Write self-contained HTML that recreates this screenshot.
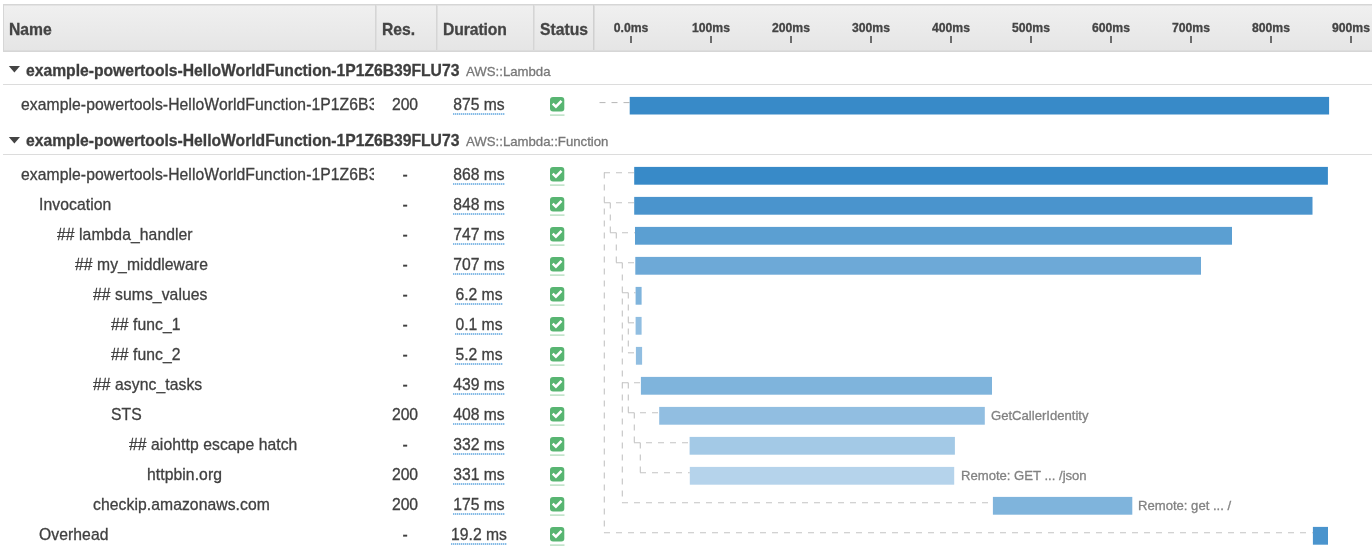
<!DOCTYPE html>
<html><head><meta charset="utf-8"><style>
html,body{margin:0;padding:0;}
body{width:1372px;height:549px;position:relative;overflow:hidden;background:#fff;font-family:"Liberation Sans",sans-serif;}
.t{position:absolute;white-space:nowrap;will-change:transform;-webkit-text-stroke:0.3px currentColor;}
.abs{position:absolute;overflow:visible;}
.hdr{position:absolute;left:3px;top:4px;width:1369px;height:46px;border:1px solid #d6d6d6;border-right:none;background:linear-gradient(#f0f0f0,#e5e5e5);box-shadow:inset 0 1px 0 #e3e3e3, inset 0 -1px 0 #dcdcdc;}
.csep{position:absolute;top:5px;height:45px;width:2px;background:linear-gradient(90deg,#d5d5d5 50%,#dfdfdf 50%);}
.csep2{position:absolute;top:5px;height:45px;width:2px;background:linear-gradient(90deg,#d0d0d0 50%,#dcdcdc 50%);}
.tick{position:absolute;top:35.5px;height:7px;width:2px;background:#6b6b6b;}
.gdiv{position:absolute;left:3px;width:1369px;height:1px;background:#dcdcdc;}
.nm{position:absolute;height:30px;overflow:hidden;}
</style></head><body>
<div class="hdr"></div>
<div class="csep" style="left:374.5px"></div>
<div class="csep" style="left:435.5px"></div>
<div class="csep" style="left:532.5px"></div>
<div class="csep2" style="left:593.3px"></div>
<div class="t" style="left:8.80px;top:19.75px;font-size:15.7px;line-height:20.41px;font-weight:bold;color:#444;">Name</div>
<div class="t" style="left:382.40px;top:19.75px;font-size:15.7px;line-height:20.41px;font-weight:bold;color:#444;">Res.</div>
<div class="t" style="left:442.60px;top:19.75px;font-size:15.7px;line-height:20.41px;font-weight:bold;color:#444;letter-spacing:-0.08px;">Duration</div>
<div class="t" style="left:540.20px;top:19.75px;font-size:15.7px;line-height:20.41px;font-weight:bold;color:#444;">Status</div>
<div class="t" style="left:431.20px;width:400px;text-align:center;top:20.84px;font-size:12.2px;line-height:15.86px;font-weight:bold;color:#444;">0.0ms</div>
<div class="tick" style="left:630px"></div>
<div class="t" style="left:511.23px;width:400px;text-align:center;top:20.84px;font-size:12.2px;line-height:15.86px;font-weight:bold;color:#444;">100ms</div>
<div class="tick" style="left:710px"></div>
<div class="t" style="left:591.26px;width:400px;text-align:center;top:20.84px;font-size:12.2px;line-height:15.86px;font-weight:bold;color:#444;">200ms</div>
<div class="tick" style="left:790px"></div>
<div class="t" style="left:671.29px;width:400px;text-align:center;top:20.84px;font-size:12.2px;line-height:15.86px;font-weight:bold;color:#444;">300ms</div>
<div class="tick" style="left:870px"></div>
<div class="t" style="left:751.32px;width:400px;text-align:center;top:20.84px;font-size:12.2px;line-height:15.86px;font-weight:bold;color:#444;">400ms</div>
<div class="tick" style="left:950px"></div>
<div class="t" style="left:831.35px;width:400px;text-align:center;top:20.84px;font-size:12.2px;line-height:15.86px;font-weight:bold;color:#444;">500ms</div>
<div class="tick" style="left:1030px"></div>
<div class="t" style="left:911.38px;width:400px;text-align:center;top:20.84px;font-size:12.2px;line-height:15.86px;font-weight:bold;color:#444;">600ms</div>
<div class="tick" style="left:1110px"></div>
<div class="t" style="left:991.41px;width:400px;text-align:center;top:20.84px;font-size:12.2px;line-height:15.86px;font-weight:bold;color:#444;">700ms</div>
<div class="tick" style="left:1190px"></div>
<div class="t" style="left:1071.44px;width:400px;text-align:center;top:20.84px;font-size:12.2px;line-height:15.86px;font-weight:bold;color:#444;">800ms</div>
<div class="tick" style="left:1270px"></div>
<div class="t" style="left:1151.47px;width:400px;text-align:center;top:20.84px;font-size:12.2px;line-height:15.86px;font-weight:bold;color:#444;">900ms</div>
<div class="tick" style="left:1350px"></div>
<svg class="abs" style="left:8px;top:65.4px" width="14" height="10"><path d="M0.8 1 L12 1 L6.4 7.6 Z" fill="#444"/></svg>
<div class="t" style="left:25.80px;top:60.77px;font-size:15.68px;line-height:20.38px;font-weight:bold;color:#3e3e3e;">example-powertools-HelloWorldFunction-1P1Z6B39FLU73</div>
<div class="t" style="left:465.80px;top:63.24px;font-size:13.2px;line-height:17.16px;color:#777;">AWS::Lambda</div>
<div class="gdiv" style="top:83.6px"></div>
<div class="nm" style="left:21.0px;top:90px;width:353.3px;letter-spacing:0.08px"><div class="t"  style="left:0px;top:4.95px;font-size:15.7px;line-height:20.41px;color:#404040;">example-powertools-HelloWorldFunction-1P1Z6B39FLU73</div></div>
<div class="t" style="left:205.20px;width:400px;text-align:center;top:95.15px;font-size:15.7px;line-height:20.41px;color:#404040;"><span style="">200</span></div>
<div class="t" style="left:279.00px;width:400px;text-align:center;top:95.15px;font-size:15.7px;line-height:20.41px;color:#404040;"><span style="background:repeating-linear-gradient(90deg,#86bbe6 0 1px,#d4e7f6 1px 2px) left bottom/100% 2px no-repeat;padding-bottom:3px;display:inline-block;line-height:15px">875 ms</span></div>
<svg class="abs" style="left:550px;top:96.5px" width="15" height="20"><rect x="0" y="0" width="14.3" height="14.5" rx="3" fill="#58b572"/><path d="M2.7 6.6 L5.9 9.6 L11.5 3.9" stroke="#fff" stroke-width="2.6" fill="none" stroke-linecap="butt"/><line x1="0" y1="18.1" x2="14.5" y2="18.1" stroke="#b0dbbb" stroke-width="1.3"/></svg>
<svg class="abs" style="left:8px;top:135.8px" width="14" height="10"><path d="M0.8 1 L12 1 L6.4 7.6 Z" fill="#444"/></svg>
<div class="t" style="left:25.80px;top:130.87px;font-size:15.68px;line-height:20.38px;font-weight:bold;color:#3e3e3e;">example-powertools-HelloWorldFunction-1P1Z6B39FLU73</div>
<div class="t" style="left:465.80px;top:133.04px;font-size:13.2px;line-height:17.16px;color:#777;">AWS::Lambda::Function</div>
<div class="gdiv" style="top:154.0px"></div>
<div class="nm" style="left:21.0px;top:160px;width:353.3px;letter-spacing:0.08px"><div class="t"  style="left:0px;top:4.95px;font-size:15.7px;line-height:20.41px;color:#404040;">example-powertools-HelloWorldFunction-1P1Z6B39FLU73</div></div>
<div class="t" style="left:205.20px;width:400px;text-align:center;top:165.15px;font-size:15.7px;line-height:20.41px;color:#404040;"><span style="">-</span></div>
<div class="t" style="left:279.00px;width:400px;text-align:center;top:165.15px;font-size:15.7px;line-height:20.41px;color:#404040;"><span style="background:repeating-linear-gradient(90deg,#86bbe6 0 1px,#d4e7f6 1px 2px) left bottom/100% 2px no-repeat;padding-bottom:3px;display:inline-block;line-height:15px">868 ms</span></div>
<svg class="abs" style="left:550px;top:166.5px" width="15" height="20"><rect x="0" y="0" width="14.3" height="14.5" rx="3" fill="#58b572"/><path d="M2.7 6.6 L5.9 9.6 L11.5 3.9" stroke="#fff" stroke-width="2.6" fill="none" stroke-linecap="butt"/><line x1="0" y1="18.1" x2="14.5" y2="18.1" stroke="#b0dbbb" stroke-width="1.3"/></svg>
<div class="nm" style="left:39.0px;top:190px;width:335.3px;letter-spacing:0.08px"><div class="t"  style="left:0px;top:4.95px;font-size:15.7px;line-height:20.41px;color:#404040;">Invocation</div></div>
<div class="t" style="left:205.20px;width:400px;text-align:center;top:195.15px;font-size:15.7px;line-height:20.41px;color:#404040;"><span style="">-</span></div>
<div class="t" style="left:279.00px;width:400px;text-align:center;top:195.15px;font-size:15.7px;line-height:20.41px;color:#404040;"><span style="background:repeating-linear-gradient(90deg,#86bbe6 0 1px,#d4e7f6 1px 2px) left bottom/100% 2px no-repeat;padding-bottom:3px;display:inline-block;line-height:15px">848 ms</span></div>
<svg class="abs" style="left:550px;top:196.5px" width="15" height="20"><rect x="0" y="0" width="14.3" height="14.5" rx="3" fill="#58b572"/><path d="M2.7 6.6 L5.9 9.6 L11.5 3.9" stroke="#fff" stroke-width="2.6" fill="none" stroke-linecap="butt"/><line x1="0" y1="18.1" x2="14.5" y2="18.1" stroke="#b0dbbb" stroke-width="1.3"/></svg>
<div class="nm" style="left:57.0px;top:220px;width:317.3px;letter-spacing:0.08px"><div class="t"  style="left:0px;top:4.95px;font-size:15.7px;line-height:20.41px;color:#404040;">## lambda_handler</div></div>
<div class="t" style="left:205.20px;width:400px;text-align:center;top:225.15px;font-size:15.7px;line-height:20.41px;color:#404040;"><span style="">-</span></div>
<div class="t" style="left:279.00px;width:400px;text-align:center;top:225.15px;font-size:15.7px;line-height:20.41px;color:#404040;"><span style="background:repeating-linear-gradient(90deg,#86bbe6 0 1px,#d4e7f6 1px 2px) left bottom/100% 2px no-repeat;padding-bottom:3px;display:inline-block;line-height:15px">747 ms</span></div>
<svg class="abs" style="left:550px;top:226.5px" width="15" height="20"><rect x="0" y="0" width="14.3" height="14.5" rx="3" fill="#58b572"/><path d="M2.7 6.6 L5.9 9.6 L11.5 3.9" stroke="#fff" stroke-width="2.6" fill="none" stroke-linecap="butt"/><line x1="0" y1="18.1" x2="14.5" y2="18.1" stroke="#b0dbbb" stroke-width="1.3"/></svg>
<div class="nm" style="left:75.0px;top:250px;width:299.3px;letter-spacing:0.08px"><div class="t"  style="left:0px;top:4.95px;font-size:15.7px;line-height:20.41px;color:#404040;">## my_middleware</div></div>
<div class="t" style="left:205.20px;width:400px;text-align:center;top:255.15px;font-size:15.7px;line-height:20.41px;color:#404040;"><span style="">-</span></div>
<div class="t" style="left:279.00px;width:400px;text-align:center;top:255.15px;font-size:15.7px;line-height:20.41px;color:#404040;"><span style="background:repeating-linear-gradient(90deg,#86bbe6 0 1px,#d4e7f6 1px 2px) left bottom/100% 2px no-repeat;padding-bottom:3px;display:inline-block;line-height:15px">707 ms</span></div>
<svg class="abs" style="left:550px;top:256.5px" width="15" height="20"><rect x="0" y="0" width="14.3" height="14.5" rx="3" fill="#58b572"/><path d="M2.7 6.6 L5.9 9.6 L11.5 3.9" stroke="#fff" stroke-width="2.6" fill="none" stroke-linecap="butt"/><line x1="0" y1="18.1" x2="14.5" y2="18.1" stroke="#b0dbbb" stroke-width="1.3"/></svg>
<div class="nm" style="left:93.0px;top:280px;width:281.3px;letter-spacing:0.08px"><div class="t"  style="left:0px;top:4.95px;font-size:15.7px;line-height:20.41px;color:#404040;">## sums_values</div></div>
<div class="t" style="left:205.20px;width:400px;text-align:center;top:285.15px;font-size:15.7px;line-height:20.41px;color:#404040;"><span style="">-</span></div>
<div class="t" style="left:279.00px;width:400px;text-align:center;top:285.15px;font-size:15.7px;line-height:20.41px;color:#404040;"><span style="background:repeating-linear-gradient(90deg,#86bbe6 0 1px,#d4e7f6 1px 2px) left bottom/100% 2px no-repeat;padding-bottom:3px;display:inline-block;line-height:15px">6.2 ms</span></div>
<svg class="abs" style="left:550px;top:286.5px" width="15" height="20"><rect x="0" y="0" width="14.3" height="14.5" rx="3" fill="#58b572"/><path d="M2.7 6.6 L5.9 9.6 L11.5 3.9" stroke="#fff" stroke-width="2.6" fill="none" stroke-linecap="butt"/><line x1="0" y1="18.1" x2="14.5" y2="18.1" stroke="#b0dbbb" stroke-width="1.3"/></svg>
<div class="nm" style="left:111.0px;top:310px;width:263.3px;letter-spacing:0.08px"><div class="t"  style="left:0px;top:4.95px;font-size:15.7px;line-height:20.41px;color:#404040;">## func_1</div></div>
<div class="t" style="left:205.20px;width:400px;text-align:center;top:315.15px;font-size:15.7px;line-height:20.41px;color:#404040;"><span style="">-</span></div>
<div class="t" style="left:279.00px;width:400px;text-align:center;top:315.15px;font-size:15.7px;line-height:20.41px;color:#404040;"><span style="background:repeating-linear-gradient(90deg,#86bbe6 0 1px,#d4e7f6 1px 2px) left bottom/100% 2px no-repeat;padding-bottom:3px;display:inline-block;line-height:15px">0.1 ms</span></div>
<svg class="abs" style="left:550px;top:316.5px" width="15" height="20"><rect x="0" y="0" width="14.3" height="14.5" rx="3" fill="#58b572"/><path d="M2.7 6.6 L5.9 9.6 L11.5 3.9" stroke="#fff" stroke-width="2.6" fill="none" stroke-linecap="butt"/><line x1="0" y1="18.1" x2="14.5" y2="18.1" stroke="#b0dbbb" stroke-width="1.3"/></svg>
<div class="nm" style="left:111.0px;top:340px;width:263.3px;letter-spacing:0.08px"><div class="t"  style="left:0px;top:4.95px;font-size:15.7px;line-height:20.41px;color:#404040;">## func_2</div></div>
<div class="t" style="left:205.20px;width:400px;text-align:center;top:345.15px;font-size:15.7px;line-height:20.41px;color:#404040;"><span style="">-</span></div>
<div class="t" style="left:279.00px;width:400px;text-align:center;top:345.15px;font-size:15.7px;line-height:20.41px;color:#404040;"><span style="background:repeating-linear-gradient(90deg,#86bbe6 0 1px,#d4e7f6 1px 2px) left bottom/100% 2px no-repeat;padding-bottom:3px;display:inline-block;line-height:15px">5.2 ms</span></div>
<svg class="abs" style="left:550px;top:346.5px" width="15" height="20"><rect x="0" y="0" width="14.3" height="14.5" rx="3" fill="#58b572"/><path d="M2.7 6.6 L5.9 9.6 L11.5 3.9" stroke="#fff" stroke-width="2.6" fill="none" stroke-linecap="butt"/><line x1="0" y1="18.1" x2="14.5" y2="18.1" stroke="#b0dbbb" stroke-width="1.3"/></svg>
<div class="nm" style="left:93.0px;top:370px;width:281.3px;letter-spacing:0.08px"><div class="t"  style="left:0px;top:4.95px;font-size:15.7px;line-height:20.41px;color:#404040;">## async_tasks</div></div>
<div class="t" style="left:205.20px;width:400px;text-align:center;top:375.15px;font-size:15.7px;line-height:20.41px;color:#404040;"><span style="">-</span></div>
<div class="t" style="left:279.00px;width:400px;text-align:center;top:375.15px;font-size:15.7px;line-height:20.41px;color:#404040;"><span style="background:repeating-linear-gradient(90deg,#86bbe6 0 1px,#d4e7f6 1px 2px) left bottom/100% 2px no-repeat;padding-bottom:3px;display:inline-block;line-height:15px">439 ms</span></div>
<svg class="abs" style="left:550px;top:376.5px" width="15" height="20"><rect x="0" y="0" width="14.3" height="14.5" rx="3" fill="#58b572"/><path d="M2.7 6.6 L5.9 9.6 L11.5 3.9" stroke="#fff" stroke-width="2.6" fill="none" stroke-linecap="butt"/><line x1="0" y1="18.1" x2="14.5" y2="18.1" stroke="#b0dbbb" stroke-width="1.3"/></svg>
<div class="nm" style="left:111.0px;top:400px;width:263.3px;letter-spacing:0.08px"><div class="t"  style="left:0px;top:4.95px;font-size:15.7px;line-height:20.41px;color:#404040;">STS</div></div>
<div class="t" style="left:205.20px;width:400px;text-align:center;top:405.15px;font-size:15.7px;line-height:20.41px;color:#404040;"><span style="">200</span></div>
<div class="t" style="left:279.00px;width:400px;text-align:center;top:405.15px;font-size:15.7px;line-height:20.41px;color:#404040;"><span style="background:repeating-linear-gradient(90deg,#86bbe6 0 1px,#d4e7f6 1px 2px) left bottom/100% 2px no-repeat;padding-bottom:3px;display:inline-block;line-height:15px">408 ms</span></div>
<svg class="abs" style="left:550px;top:406.5px" width="15" height="20"><rect x="0" y="0" width="14.3" height="14.5" rx="3" fill="#58b572"/><path d="M2.7 6.6 L5.9 9.6 L11.5 3.9" stroke="#fff" stroke-width="2.6" fill="none" stroke-linecap="butt"/><line x1="0" y1="18.1" x2="14.5" y2="18.1" stroke="#b0dbbb" stroke-width="1.3"/></svg>
<div class="nm" style="left:129.0px;top:430px;width:245.3px;letter-spacing:0.08px"><div class="t"  style="left:0px;top:4.95px;font-size:15.7px;line-height:20.41px;color:#404040;">## aiohttp escape hatch</div></div>
<div class="t" style="left:205.20px;width:400px;text-align:center;top:435.15px;font-size:15.7px;line-height:20.41px;color:#404040;"><span style="">-</span></div>
<div class="t" style="left:279.00px;width:400px;text-align:center;top:435.15px;font-size:15.7px;line-height:20.41px;color:#404040;"><span style="background:repeating-linear-gradient(90deg,#86bbe6 0 1px,#d4e7f6 1px 2px) left bottom/100% 2px no-repeat;padding-bottom:3px;display:inline-block;line-height:15px">332 ms</span></div>
<svg class="abs" style="left:550px;top:436.5px" width="15" height="20"><rect x="0" y="0" width="14.3" height="14.5" rx="3" fill="#58b572"/><path d="M2.7 6.6 L5.9 9.6 L11.5 3.9" stroke="#fff" stroke-width="2.6" fill="none" stroke-linecap="butt"/><line x1="0" y1="18.1" x2="14.5" y2="18.1" stroke="#b0dbbb" stroke-width="1.3"/></svg>
<div class="nm" style="left:147.0px;top:460px;width:227.3px;letter-spacing:0.08px"><div class="t"  style="left:0px;top:4.95px;font-size:15.7px;line-height:20.41px;color:#404040;">httpbin.org</div></div>
<div class="t" style="left:205.20px;width:400px;text-align:center;top:465.15px;font-size:15.7px;line-height:20.41px;color:#404040;"><span style="">200</span></div>
<div class="t" style="left:279.00px;width:400px;text-align:center;top:465.15px;font-size:15.7px;line-height:20.41px;color:#404040;"><span style="background:repeating-linear-gradient(90deg,#86bbe6 0 1px,#d4e7f6 1px 2px) left bottom/100% 2px no-repeat;padding-bottom:3px;display:inline-block;line-height:15px">331 ms</span></div>
<svg class="abs" style="left:550px;top:466.5px" width="15" height="20"><rect x="0" y="0" width="14.3" height="14.5" rx="3" fill="#58b572"/><path d="M2.7 6.6 L5.9 9.6 L11.5 3.9" stroke="#fff" stroke-width="2.6" fill="none" stroke-linecap="butt"/><line x1="0" y1="18.1" x2="14.5" y2="18.1" stroke="#b0dbbb" stroke-width="1.3"/></svg>
<div class="nm" style="left:93.0px;top:490px;width:281.3px;letter-spacing:0.08px"><div class="t"  style="left:0px;top:4.95px;font-size:15.7px;line-height:20.41px;color:#404040;">checkip.amazonaws.com</div></div>
<div class="t" style="left:205.20px;width:400px;text-align:center;top:495.15px;font-size:15.7px;line-height:20.41px;color:#404040;"><span style="">200</span></div>
<div class="t" style="left:279.00px;width:400px;text-align:center;top:495.15px;font-size:15.7px;line-height:20.41px;color:#404040;"><span style="background:repeating-linear-gradient(90deg,#86bbe6 0 1px,#d4e7f6 1px 2px) left bottom/100% 2px no-repeat;padding-bottom:3px;display:inline-block;line-height:15px">175 ms</span></div>
<svg class="abs" style="left:550px;top:496.5px" width="15" height="20"><rect x="0" y="0" width="14.3" height="14.5" rx="3" fill="#58b572"/><path d="M2.7 6.6 L5.9 9.6 L11.5 3.9" stroke="#fff" stroke-width="2.6" fill="none" stroke-linecap="butt"/><line x1="0" y1="18.1" x2="14.5" y2="18.1" stroke="#b0dbbb" stroke-width="1.3"/></svg>
<div class="nm" style="left:39.0px;top:520px;width:335.3px;letter-spacing:0.08px"><div class="t"  style="left:0px;top:4.95px;font-size:15.7px;line-height:20.41px;color:#404040;">Overhead</div></div>
<div class="t" style="left:205.20px;width:400px;text-align:center;top:525.15px;font-size:15.7px;line-height:20.41px;color:#404040;"><span style="">-</span></div>
<div class="t" style="left:279.00px;width:400px;text-align:center;top:525.15px;font-size:15.7px;line-height:20.41px;color:#404040;"><span style="background:repeating-linear-gradient(90deg,#86bbe6 0 1px,#d4e7f6 1px 2px) left bottom/100% 2px no-repeat;padding-bottom:3px;display:inline-block;line-height:15px">19.2 ms</span></div>
<svg class="abs" style="left:550px;top:526.5px" width="15" height="20"><rect x="0" y="0" width="14.3" height="14.5" rx="3" fill="#58b572"/><path d="M2.7 6.6 L5.9 9.6 L11.5 3.9" stroke="#fff" stroke-width="2.6" fill="none" stroke-linecap="butt"/><line x1="0" y1="18.1" x2="14.5" y2="18.1" stroke="#b0dbbb" stroke-width="1.3"/></svg>
<svg class="abs" style="left:0;top:0" width="1372" height="549">
<path d="M599.5 102.6 H629.7" stroke="#b5b5b5" stroke-width="1" stroke-dasharray="6 6" fill="none"/>
<rect x="629.7" y="96.9" width="699.4" height="17.6" fill="rgb(56,138,200)"/>
<path d="M604 172.8 H634.2" stroke="#c4c4c4" stroke-width="1.1" stroke-dasharray="6 6" fill="none"/>
<path d="M604.3 172.4 V532.8" stroke="#c4c4c4" stroke-width="1.1" stroke-dasharray="6 6" fill="none"/>
<path d="M604 202.8 H634.2" stroke="#c4c4c4" stroke-width="1.1" stroke-dasharray="6 6" fill="none"/>
<path d="M610.3 202.4 V232.8" stroke="#c4c4c4" stroke-width="1.1" stroke-dasharray="6 6" fill="none"/>
<path d="M610 232.8 H635.0" stroke="#c4c4c4" stroke-width="1.1" stroke-dasharray="6 6" fill="none"/>
<path d="M616.3 232.4 V262.8" stroke="#c4c4c4" stroke-width="1.1" stroke-dasharray="6 6" fill="none"/>
<path d="M616 262.8 H635.3" stroke="#c4c4c4" stroke-width="1.1" stroke-dasharray="6 6" fill="none"/>
<path d="M622.3 262.40000000000003 V502.8" stroke="#c4c4c4" stroke-width="1.1" stroke-dasharray="6 6" fill="none"/>
<path d="M622 292.8 H635.6" stroke="#c4c4c4" stroke-width="1.1" stroke-dasharray="6 6" fill="none"/>
<path d="M628.3 292.40000000000003 V352.8" stroke="#c4c4c4" stroke-width="1.1" stroke-dasharray="6 6" fill="none"/>
<path d="M628 322.8 H635.6" stroke="#c4c4c4" stroke-width="1.1" stroke-dasharray="6 6" fill="none"/>
<path d="M628 352.8 H635.9" stroke="#c4c4c4" stroke-width="1.1" stroke-dasharray="6 6" fill="none"/>
<path d="M622 382.8 H640.9" stroke="#c4c4c4" stroke-width="1.1" stroke-dasharray="6 6" fill="none"/>
<path d="M628.3 382.40000000000003 V412.8" stroke="#c4c4c4" stroke-width="1.1" stroke-dasharray="6 6" fill="none"/>
<path d="M628 412.8 H659.2" stroke="#c4c4c4" stroke-width="1.1" stroke-dasharray="6 6" fill="none"/>
<path d="M634.3 412.40000000000003 V442.8" stroke="#c4c4c4" stroke-width="1.1" stroke-dasharray="6 6" fill="none"/>
<path d="M634 442.8 H689.6" stroke="#c4c4c4" stroke-width="1.1" stroke-dasharray="6 6" fill="none"/>
<path d="M640.3 442.40000000000003 V472.8" stroke="#c4c4c4" stroke-width="1.1" stroke-dasharray="6 6" fill="none"/>
<path d="M640 472.8 H689.8" stroke="#c4c4c4" stroke-width="1.1" stroke-dasharray="6 6" fill="none"/>
<path d="M622 502.8 H992.9" stroke="#c4c4c4" stroke-width="1.1" stroke-dasharray="6 6" fill="none"/>
<path d="M604 532.8 H1312.9" stroke="#c4c4c4" stroke-width="1.1" stroke-dasharray="6 6" fill="none"/>
<rect x="634.2" y="166.9" width="693.7" height="17.8" fill="rgb(56,138,200)"/>
<rect x="634.2" y="196.9" width="678.3" height="17.8" fill="rgb(74,148,205)"/>
<rect x="635.0" y="226.9" width="597.0" height="17.8" fill="rgb(91,159,210)"/>
<rect x="635.3" y="256.9" width="565.7" height="17.8" fill="rgb(109,169,215)"/>
<rect x="635.6" y="286.9" width="6.0" height="17.8" fill="rgb(127,180,220)"/>
<rect x="635.6" y="316.9" width="6.0" height="17.8" fill="rgb(145,190,225)"/>
<rect x="635.9" y="346.9" width="6.2" height="17.8" fill="rgb(145,190,225)"/>
<rect x="640.9" y="376.9" width="351.1" height="17.8" fill="rgb(127,180,220)"/>
<rect x="659.2" y="406.9" width="325.6" height="17.8" fill="rgb(145,190,225)"/>
<rect x="689.6" y="436.9" width="265.3" height="17.8" fill="rgb(163,201,230)"/>
<rect x="689.8" y="466.9" width="264.4" height="17.8" fill="rgb(181,211,235)"/>
<rect x="992.9" y="496.9" width="139.4" height="17.8" fill="rgb(127,180,220)"/>
<rect x="1312.9" y="526.9" width="15.1" height="17.8" fill="rgb(74,148,205)"/>
</svg>
<div class="t" style="left:991.40px;top:407.34px;font-size:13.1px;line-height:17.03px;color:#828282;">GetCallerIdentity</div>
<div class="t" style="left:960.80px;top:467.34px;font-size:13.1px;line-height:17.03px;color:#828282;">Remote: GET ... /json</div>
<div class="t" style="left:1138.10px;top:497.34px;font-size:13.1px;line-height:17.03px;color:#828282;">Remote: get ... /</div>
</body></html>
